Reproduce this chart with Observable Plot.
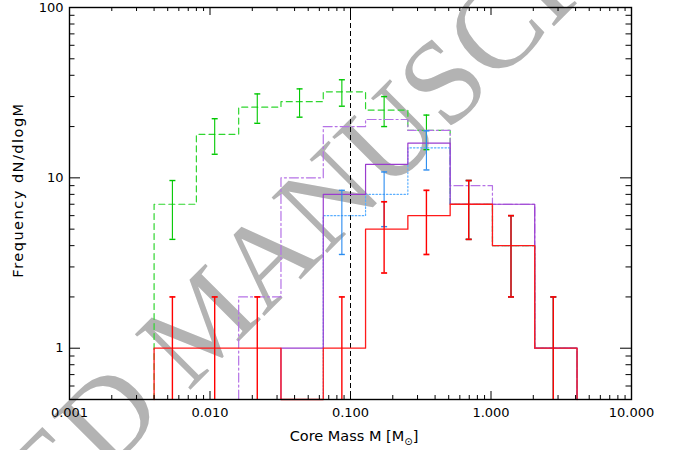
<!DOCTYPE html>
<html>
<head>
<meta charset="utf-8">
<script src="https://cdn.jsdelivr.net/npm/d3@7"></script>
<script src="https://cdn.jsdelivr.net/npm/@observablehq/plot@0.6"></script>
<style>
  html, body { margin: 0; padding: 0; background: #fff; }
  #chart { width: 675px; height: 450px; }
</style>
</head>
<body>
<div id="chart"></div>
<script>
// Core mass bins (M_sun), factor-of-two wide in log M
const binEdges = [0.004, 0.008, 0.016, 0.032, 0.064, 0.128, 0.256, 0.512, 1.024, 2.048, 4.096];
// positions of the error bars inside each bin
const binMids = [0.0054, 0.0108, 0.0217, 0.0434, 0.0868, 0.1735, 0.347, 0.694, 1.388, 2.775];

// dN/dlogM per bin, one array per sample
const greenDashed   = [7, 18, 26, 28, 32, 25, 19, 7, 4, 1];
const purpleDashDot = [0, 0, 2, 10, 20, 22, 19, 9, 7, 1];
const purpleSolid   = [0, 0, 0, 1, 8, 12, 16, 7, 7, 1];
const blueDotted    = [0, 0, 0, 0, 6, 8, 15, 7, 4, 1];
const redSolid      = [1, 1, 1, 0, 1, 5, 6, 7, 4, 1];

// axis ticks
const xMajor = [0.001, 0.01, 0.1, 1, 10];
const xTickLabels = ["0.001", "0.010", "0.100", "1.000", "10.000"];
const yMajor = [1, 10, 100];
const yTickLabels = ["1", "10", "100"];
const massLimit = 0.1;

const W = 675, H = 450;
const mL = 69, mR = 44, mT = 7, mB = 51;
const innerW = W - mL - mR, innerH = H - mT - mB;
const yFloor = 0.5;

// minor ticks at 2..9 within each decade
const xMinor = [];
for (let d = 0.001; d < 9; d *= 10) for (let m = 2; m <= 9; m++) xMinor.push(+(d * m).toPrecision(3));
const yMinor = [];
for (const d of [0.1, 1, 10]) for (let m = 2; m <= 9; m++) { const v = +(d * m).toPrecision(3); if (v >= yFloor && v < 100) yMinor.push(v); }

// histogram outline: rise from zero at the first edge, drop back at the last edge
function stepPoints(values) {
  const pts = [{x: binEdges[0], v: 0}];
  values.forEach((v, i) => pts.push({x: binEdges[i], v}));
  pts.push({x: binEdges[values.length], v: 0});
  return pts;
}
// Poisson error bars, sqrt(N), for the non-empty bins
function errorBars(values) {
  return values.map((v, i) => ({x: binMids[i], v, lo: v - Math.sqrt(v), hi: v + Math.sqrt(v)}))
               .filter(d => d.v > 0);
}
const yv = d => Math.max(d.v, yFloor);

const capSymbol = { draw(ctx) { ctx.moveTo(-3, 0); ctx.lineTo(3, 0); } };

function histLine(values, stroke, dash, sw = 1.2) {
  return Plot.line(stepPoints(values), {x: "x", y: yv, curve: "step-after", stroke, strokeWidth: sw, strokeDasharray: dash});
}
function errMarks(values, stroke, sw = 1.1) {
  const e = errorBars(values);
  return [
    Plot.ruleX(e, {x: "x", y1: d => Math.max(d.lo, yFloor), y2: "hi", stroke, strokeWidth: sw}),
    Plot.dot(e, {x: "x", y: "hi", symbol: capSymbol, r: 3, stroke, fill: "none", strokeWidth: sw + 0.3}),
    Plot.dot(e.filter(d => d.lo > yFloor), {x: "x", y: "lo", symbol: capSymbol, r: 3, stroke, fill: "none", strokeWidth: sw + 0.3})
  ];
}

const plot = Plot.plot({
  width: W, height: H,
  marginLeft: mL, marginRight: mR, marginTop: mT, marginBottom: mB,
  style: {fontFamily: "DejaVu Sans", fontSize: "13px", background: "white", color: "black", overflow: "hidden"},
  x: {type: "log", domain: [0.001, 10], axis: null},
  y: {type: "log", domain: [yFloor, 100], axis: null},
  marks: [
    // watermark behind the data
    Plot.text(["ACCEPTED MANUSCRIPT"], {
      text: d => d, frameAnchor: "top-left", dx: 135, dy: 314, rotate: -45,
      fontSize: 120, fontFamily: "Liberation Serif", fill: "#b3b3b3",
      textAnchor: "middle", lineAnchor: "middle"
    }),
    Plot.ruleX([massLimit], {stroke: "black", strokeDasharray: "5,3"}),
    histLine(greenDashed, "#2fd62f", "6,4"),
    ...errMarks(greenDashed, "#00c800"),
    histLine(purpleDashDot, "#b572e6", "9,3,2,3"),
    histLine(blueDotted, "#5aaeff", "1.5,2"),
    histLine(purpleSolid, "#9a3ccf", null),
    ...errMarks(blueDotted, "#2a8cf0"),
    histLine(redSolid, "#ff1a1a", null, 1.3),
    ...errMarks(redSolid, "#ff0000", 1.4),
    // inward ticks on all four sides
    Plot.tickX(xMajor, {x: d => d, insetTop: innerH - 8, stroke: "black"}),
    Plot.tickX(xMinor, {x: d => d, insetTop: innerH - 4, stroke: "black"}),
    Plot.tickX(xMajor, {x: d => d, insetBottom: innerH - 8, stroke: "black"}),
    Plot.tickX(xMinor, {x: d => d, insetBottom: innerH - 4, stroke: "black"}),
    Plot.tickY(yMajor, {y: d => d, insetRight: innerW - 11, stroke: "black"}),
    Plot.tickY(yMinor, {y: d => d, insetRight: innerW - 5.5, stroke: "black"}),
    Plot.tickY(yMajor, {y: d => d, insetLeft: innerW - 11, stroke: "black"}),
    Plot.tickY(yMinor, {y: d => d, insetLeft: innerW - 5.5, stroke: "black"}),
    Plot.frame({stroke: "black", strokeWidth: 1.4}),
    Plot.axisX({ticks: xMajor, tickSize: 0, tickPadding: 8, label: null,
                tickFormat: d => xTickLabels[xMajor.indexOf(d)]}),
    Plot.axisY({ticks: yMajor, tickSize: 0, tickPadding: 6, label: null,
                tickFormat: d => yTickLabels[yMajor.indexOf(d)]})
  ]
});

// axis titles (the x title carries a subscript solar symbol)
const svg = d3.select(plot);
const xt = svg.append("text")
  .attr("x", 354).attr("y", 441)
  .attr("text-anchor", "middle").attr("fill", "black")
  .style("font-family", "DejaVu Sans").style("font-size", "14.5px");
xt.append("tspan").text("Core Mass M [M");
xt.append("tspan").text("⊙").attr("dy", 4).style("font-size", "10px");
xt.append("tspan").text("]").attr("dy", -4);

svg.append("text")
  .attr("transform", `translate(23,190) rotate(-90)`)
  .attr("text-anchor", "middle").attr("fill", "black")
  .style("font-family", "DejaVu Sans").style("font-size", "14.5px")
  .style("letter-spacing", "1.5px")
  .text("Frequency dN/dlogM");

document.getElementById("chart").appendChild(plot);
</script>
</body>
</html>
